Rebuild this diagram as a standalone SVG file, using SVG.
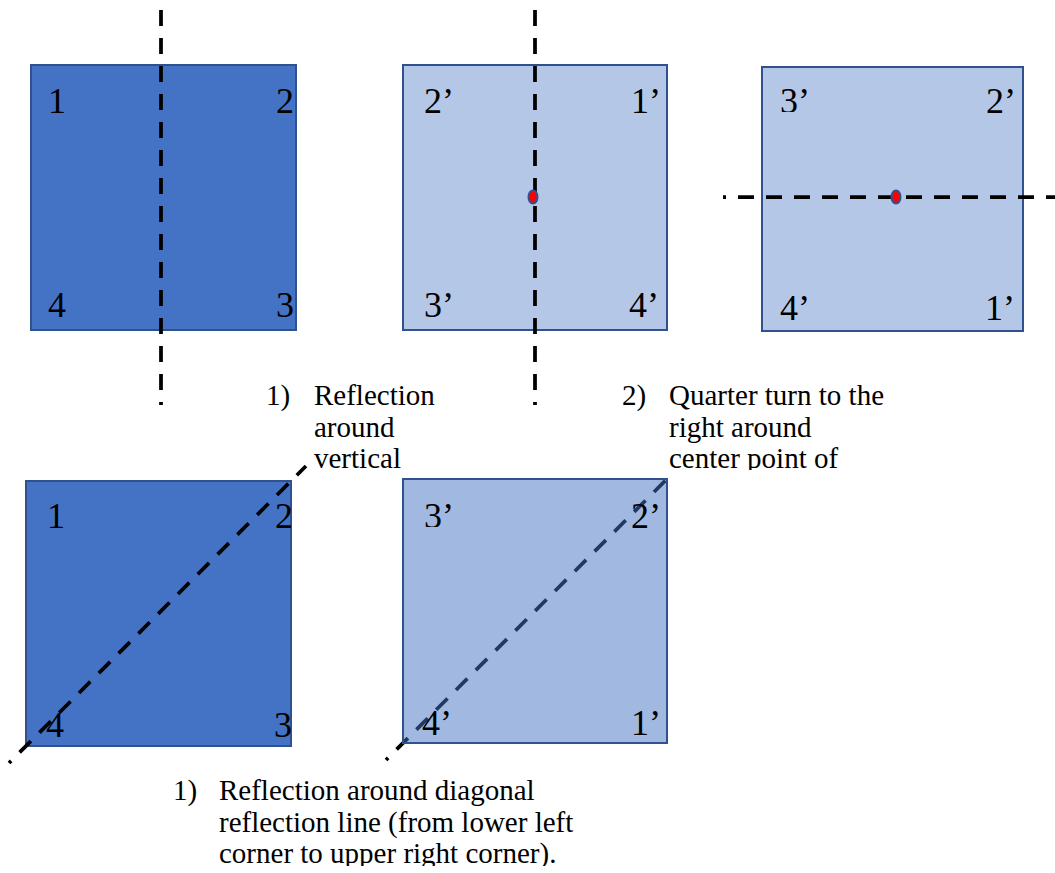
<svg xmlns="http://www.w3.org/2000/svg" width="1055" height="873" viewBox="0 0 1055 873">
<style>
.sq{stroke:#2F528F;stroke-width:2}
.dark{fill:#4472C4}
.light{fill:#B4C7E7}
.semi{fill:#4472C4;fill-opacity:0.5}
.lbl{font-size:36px;fill:#000}
.txt{font-size:29px;fill:#000}
.dash{fill:none;stroke:#000;stroke-width:3.75;stroke-dasharray:16 12}
.dot{fill:#FF0000;stroke:#2F528F;stroke-width:2}
</style>
<defs>
<clipPath id="c1"><rect x="31" y="60" width="265" height="259"/></clipPath>
<clipPath id="c2"><rect x="403" y="60" width="264" height="257"/></clipPath>
<clipPath id="c3top"><rect x="762" y="60" width="261" height="52"/></clipPath>
<clipPath id="c4"><rect x="26" y="470" width="265" height="267"/></clipPath>
<clipPath id="c5top"><rect x="403" y="470" width="264" height="57"/></clipPath>
<clipPath id="ctop"><rect x="0" y="360" width="1055" height="110"/></clipPath>
<clipPath id="cbot"><rect x="0" y="760" width="1055" height="106"/></clipPath>
</defs>

<g font-family="'Liberation Serif', 'DejaVu Serif', serif">
<g id="square1">
<rect class="sq dark" x="31" y="65" width="265" height="265"/>
<g clip-path="url(#c1)">
<text class="lbl" x="48" y="113">1</text>
<text class="lbl" x="276" y="113">2</text>
<text class="lbl" x="48" y="317">4</text>
<text class="lbl" x="276" y="317">3</text>
</g>
</g>

<g id="square2">
<rect class="sq light" x="403" y="65" width="264" height="265"/>
<g clip-path="url(#c2)">
<text class="lbl" x="424" y="113">2’</text>
<text class="lbl" x="631" y="113">1’</text>
<text class="lbl" x="424" y="317">3’</text>
<text class="lbl" x="629" y="317">4’</text>
</g>
</g>

<g id="square3">
<rect class="sq light" x="762" y="67" width="261" height="264"/>
<text class="lbl" x="780" y="113" clip-path="url(#c3top)">3’</text>
<text class="lbl" x="986" y="113">2’</text>
<text class="lbl" x="780" y="320">4’</text>
<text class="lbl" x="985" y="320">1’</text>
</g>

<g id="square4">
<rect class="sq dark" x="26" y="481" width="265" height="265"/>
<g clip-path="url(#c4)">
<text class="lbl" x="47" y="528">1</text>
<text class="lbl" x="275" y="528">2</text>
<text class="lbl" x="46" y="737">4</text>
<text class="lbl" x="274" y="737">3</text>
</g>
</g>

<path id="line5" class="dash" d="M386 760 L671 475" style="stroke-dashoffset:13"/>

<g id="square5">
<rect class="sq semi" x="403" y="479" width="264" height="264"/>
<text class="lbl" x="424" y="528" clip-path="url(#c5top)">3’</text>
<text class="lbl" x="631" y="528">2’</text>
<text class="lbl" x="422" y="735">4’</text>
<text class="lbl" x="631" y="735">1’</text>
</g>

<g id="connectors">
<path class="dash" d="M161 10 L161 405"/>
<path class="dash" d="M535 10 L535 405"/>
<path class="dash" d="M723 197 L1055 197" style="stroke-dashoffset:13"/>
<path class="dash" d="M9 763 L306 466" style="stroke-dashoffset:13"/>
</g>

<g id="centers">
<ellipse class="dot" cx="533" cy="197" rx="4.5" ry="6.5"/>
<ellipse class="dot" cx="896" cy="197" rx="4.5" ry="6.5"/>
</g>

<g id="caption1" clip-path="url(#ctop)">
<text class="txt" x="266" y="405">1)</text>
<text class="txt" x="314" y="405">Reflection</text>
<text class="txt" x="314" y="437">around</text>
<text class="txt" x="314" y="468">vertical</text>
</g>

<g id="caption2" clip-path="url(#ctop)">
<text class="txt" x="622" y="405">2)</text>
<text class="txt" x="669" y="405">Quarter turn to the</text>
<text class="txt" x="669" y="437">right around</text>
<text class="txt" x="669" y="468">center point of</text>
</g>

<g id="caption3" clip-path="url(#cbot)">
<text class="txt" x="173" y="800">1)</text>
<text class="txt" x="219" y="800">Reflection around diagonal</text>
<text class="txt" x="219" y="832">reflection line (from lower left</text>
<text class="txt" x="219" y="863">corner to upper right corner).</text>
</g>
</g>
</svg>
